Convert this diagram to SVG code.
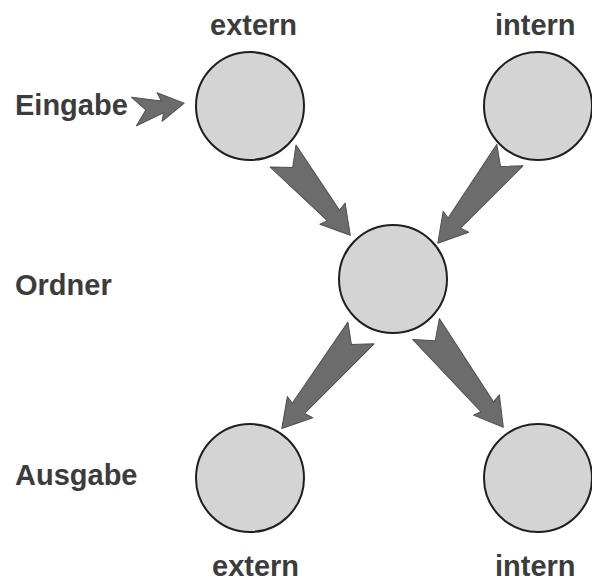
<svg xmlns="http://www.w3.org/2000/svg" width="592" height="582" viewBox="0 0 592 582">
  <style>
    .bg { fill: #ffffff; }
    .node { fill: #d4d4d4; stroke: #1f1f1f; stroke-width: 2; }
    .flow { fill: #6c6c6c; stroke: #4f4f4f; stroke-width: 1; stroke-linejoin: round; }
    .label { font-family: "Liberation Sans", Arial, sans-serif; font-weight: bold; font-size: 29px; fill: #3c3c3c; }
  </style>
  <rect class="bg" x="0" y="0" width="592" height="582"/>

  <!-- column and row labels -->
  <g id="labels">
    <text class="label" x="210" y="35">extern</text>
    <text class="label" x="495" y="35">intern</text>
    <text class="label" x="15" y="115">Eingabe</text>
    <text class="label" x="15" y="295">Ordner</text>
    <text class="label" x="15" y="485">Ausgabe</text>
    <text class="label" x="212" y="576">extern</text>
    <text class="label" x="495" y="576">intern</text>
  </g>

  <!-- connectors: notched block arrows, drawn along +x then rotated into place -->
  <g id="connectors">
    <polygon class="flow" transform="translate(134,112) rotate(-10)" points="0,-15 29,-6 26,-15 51,0 26,14 29,6 0,14 12,0"/>
    <polygon class="flow" transform="translate(283,156) rotate(49.7)" points="0,-17 78,-8 76,-17 104,0 76,16 78,8 0,17 15,0"/>
    <polygon class="flow" transform="translate(510,155) rotate(129.3)" points="0,-17 88,-8 86,-17 114,0 86,16 88,8 0,17 15,0"/>
    <polygon class="flow" transform="translate(361,333) rotate(129.7)" points="0,-17 98,-8 96,-17 124,0 96,16 98,8 0,17 15,0"/>
    <polygon class="flow" transform="translate(426,329) rotate(51.8)" points="0,-17 99,-8 97,-17 125,0 97,16 99,8 0,17 15,0"/>
  </g>

  <!-- nodes -->
  <g id="in-extern"><circle class="node" cx="250" cy="106" r="54"/></g>
  <g id="in-intern"><circle class="node" cx="538" cy="106" r="54"/></g>
  <g id="ordner"><circle class="node" cx="393" cy="279" r="54"/></g>
  <g id="out-extern"><circle class="node" cx="250" cy="478" r="54"/></g>
  <g id="out-intern"><circle class="node" cx="538" cy="478" r="54"/></g>
</svg>
